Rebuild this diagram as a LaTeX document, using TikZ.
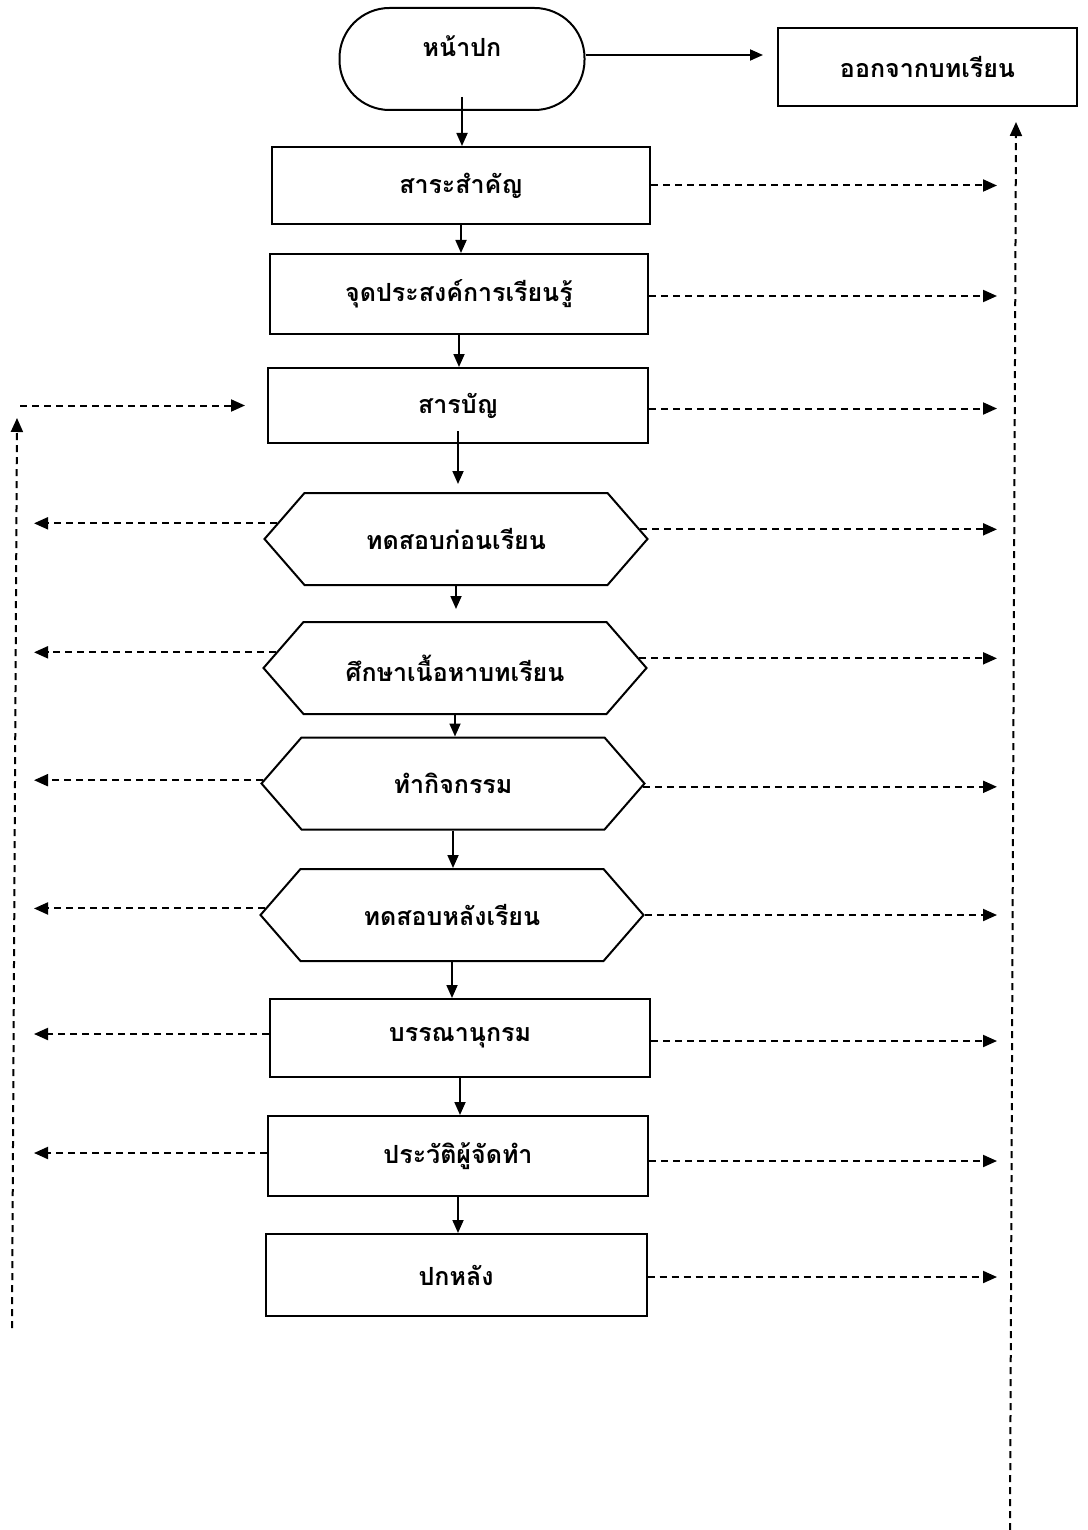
\documentclass[tikz,border=0pt]{standalone}
\usepackage{fontspec}
\newfontfamily\thaifont[Script=Thai]{Loma}
\usetikzlibrary{arrows.meta,shapes.symbols,calc}

\begin{document}
\begin{tikzpicture}[x=1pt,y=-1pt,
  font=\thaifont\bfseries\fontsize{25}{29}\selectfont,
  box/.style={draw,line width=2pt,minimum width=378pt,minimum height=78pt,inner sep=0pt},
  hexa/.style={draw,line width=2pt,signal,signal to=east and west,signal pointer angle=98,
               minimum width=383pt,minimum height=92pt,inner sep=0pt},
  flow/.style={-{Triangle[length=13pt,width=11pt]},line width=1.8pt},
  jump/.style={-{Triangle[length=14pt,width=12pt]},line width=2pt,dash pattern=on 7pt off 5pt},
]
\useasboundingbox (0,0) rectangle (1087,1530);

% main sequence of pages
\node[draw,line width=2pt,rounded corners=50pt,minimum width=245pt,minimum height=102pt,inner sep=0pt]
  (cover) at (462,59) {\raisebox{2pt}[0pt][0pt]{หน้าปก}};
\node[box,minimum width=299pt] (quit) at (927.5,67) {ออกจากบทเรียน};
\node[box,minimum height=77pt] (key) at (461,185.5) {สาระสำคัญ};
\node[box,minimum height=80pt] (obj) at (459,294) {จุดประสงค์การเรียนรู้};
\node[box,minimum width=380pt,minimum height=75pt] (toc) at (458,405.5) {สารบัญ};
\node[hexa] (h1) at (456,539) {ทดสอบก่อนเรียน};
\node[hexa] (h2) at (455,668) {ศึกษาเนื้อหาบทเรียน};
\node[hexa] (h3) at (453,783.5) {ทำกิจกรรม};
\node[hexa] (h4) at (452,915) {ทดสอบหลังเรียน};
\node[box,minimum width=380pt] (ref) at (460,1038) {บรรณานุกรม};
\node[box,minimum width=380pt,minimum height=80pt] (auth) at (458,1156) {ประวัติผู้จัดทำ};
\node[box,minimum width=381pt,minimum height=82pt] (back) at (456,1275) {ปกหลัง};

% end points of the jump lines
\coordinate (R) at (997,0);
\coordinate (L) at (34,0);
\coordinate (RT) at (1016,122);
\coordinate (RB) at (1010,1530);
\coordinate (LT) at (17,418);
\coordinate (LB) at (12,1328);
\coordinate (LH) at (20,405.5);

% solid flow
\draw[flow] ([yshift=4pt]cover.east) -- ([xshift=-14pt,yshift=4pt]quit.west |- cover.east);
\draw[flow] ([yshift=14pt]cover.south) -- (cover.south |- key.north);
\draw[flow] (key.south) -- (key.south |- obj.north);
\draw[flow] (obj.south) -- (obj.south |- toc.north);
\draw[flow] ([yshift=13pt]toc.south) -- ([yshift=8pt]toc.south |- h1.north);
\draw[flow] (h1.south) -- ([yshift=12pt]h1.south |- h2.north);
\draw[flow] (h2.south) -- (h2.south |- h3.north);
\draw[flow] (h3.south) -- (h3.south |- h4.north);
\draw[flow] (h4.south) -- (h4.south |- ref.north);
\draw[flow] (ref.south) -- (ref.south |- auth.north);
\draw[flow] (auth.south) -- (auth.south |- back.north);

% jumps to the exit
\draw[jump] (key.east) -- (key.east -| R);
\draw[jump] ([yshift=-2pt]obj.east) -- ([yshift=-2pt]obj.east -| R);
\draw[jump] ([yshift=-3pt]toc.east) -- ([yshift=-3pt]toc.east -| R);
\draw[jump] (h1.3) -- (h1.3 -| R);
\draw[jump] (h2.3) -- (h2.3 -| R);
\draw[jump] (h3.-1) -- (h3.-1 -| R);
\draw[jump] (h4.east) -- (h4.east -| R);
\draw[jump] ([yshift=-3pt]ref.east) -- ([yshift=-3pt]ref.east -| R);
\draw[jump] ([yshift=-5pt]auth.east) -- ([yshift=-5pt]auth.east -| R);
\draw[jump] ([yshift=-2pt]back.east) -- ([yshift=-2pt]back.east -| R);
\draw[jump] (RB) -- (RT);

% jumps back to the contents page
\draw[jump] (h1.175) -- (h1.175 -| L);
\draw[jump] (h2.175) -- (h2.175 -| L);
\draw[jump] (h3.179) -- (h3.179 -| L);
\draw[jump] (h4.178.5) -- (h4.178.5 -| L);
\draw[jump] ([yshift=4pt]ref.west) -- ([yshift=4pt]ref.west -| L);
\draw[jump] ([yshift=3pt]auth.west) -- ([yshift=3pt]auth.west -| L);
\draw[jump] (LB) -- (LT);
\draw[jump] (LH) -- ([xshift=-22pt]toc.west);
\end{tikzpicture}
\end{document}
